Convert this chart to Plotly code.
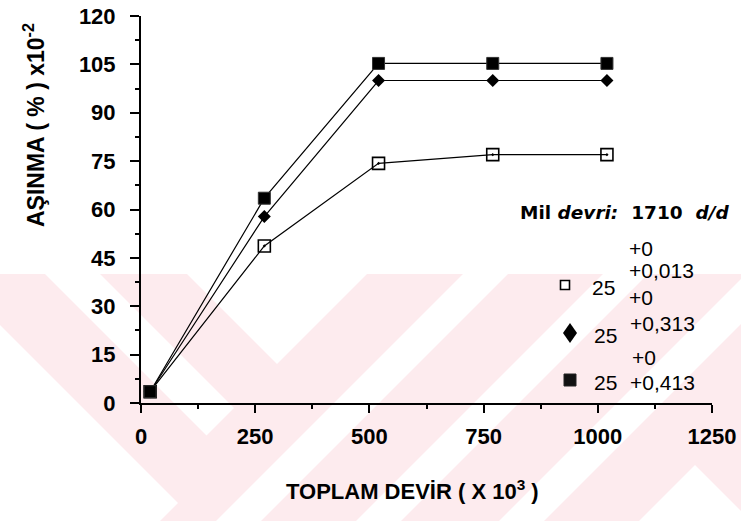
import plotly.graph_objects as go

# ---------------- data ----------------
toplam_devir = [20, 270, 520, 770, 1020]          # x (x10^3)
asinma_013 = [3.5, 48.7, 74.3, 77.0, 77.0]         # open square
asinma_313 = [3.5, 57.8, 100.0, 100.0, 100.0]      # diamond
asinma_413 = [3.5, 63.5, 105.3, 105.3, 105.3]      # filled square

x_ticks = [0, 250, 500, 750, 1000, 1250]
y_ticks = [0, 15, 30, 45, 60, 75, 90, 105, 120]

legend_title = "Mil <i>devri:</i>  1710  <i>d/d</i>"
legend_nominal = ["25", "25", "25"]
legend_tol = ["+0", "+0,013", "+0", "+0,313", "+0", "+0,413"]

# ---------------- layout geometry (pixels) ----------------
W, H = 741, 521
L, R, T, B = 141, 712, 16, 403


def PX(px):
    return (px - L) / (R - L)


def PY(py):
    return (B - py) / (B - T)


fig = go.Figure()

line_style = dict(color="black", width=1.2)
fig.add_trace(go.Scatter(x=toplam_devir, y=asinma_013, mode="lines+markers",
                         line=line_style,
                         marker=dict(symbol="square-open-dot", size=12, color="black",
                                     line=dict(color="black", width=1.6)),
                         cliponaxis=False, showlegend=False, hoverinfo="skip"))
fig.add_trace(go.Scatter(x=toplam_devir, y=asinma_313, mode="lines+markers",
                         line=line_style,
                         marker=dict(symbol="diamond", size=10, color="black"),
                         cliponaxis=False, showlegend=False, hoverinfo="skip"))
fig.add_trace(go.Scatter(x=toplam_devir, y=asinma_413, mode="lines+markers",
                         line=line_style,
                         marker=dict(symbol="square", size=12, color="black",
                                     line=dict(color="#333", width=1)),
                         cliponaxis=False, showlegend=False, hoverinfo="skip"))

# ---------------- watermark (decorative background) ----------------
PINK = "#fdebee"
shapes = []


def poly(pts, color):
    d = "M " + " L ".join(f"{PX(x):.5f},{PY(y):.5f}" for x, y in pts) + " Z"
    return dict(type="path", path=d, xref="paper", yref="paper",
                fillcolor=color, line=dict(width=0), layer="below")


shapes.append(poly([(0, 274), (W + 5, 274), (W + 5, H + 5), (0, H + 5)], PINK))
shapes.append(poly([(45, 274), (100, 274), (234, 408), (206.5, 435.5)], "white"))
shapes.append(poly([(187, 274), (367, 274), (277, 364)], "white"))
shapes.append(poly([(0, 325), (178, 503), (160, 521), (0, 521)], "white"))
for s1 in (737, 877, 1020):
    s2 = s1 + 45
    shapes.append(poly([(s1 - 274, 274), (s2 - 274, 274), (s2 - 530, 530), (s1 - 530, 530)], "white"))
shapes.append(poly([(695, 465), (630, 530), (760, 530)], "white"))

# legend symbols
shapes.append(dict(type="rect", xref="paper", yref="paper",
                   x0=PX(560.5), x1=PX(569.5), y0=PY(289.5), y1=PY(280.5),
                   line=dict(color="black", width=1.6), fillcolor="white"))
shapes.append(dict(type="path", xref="paper", yref="paper",
                   path=(f"M {PX(570):.5f},{PY(323):.5f} L {PX(577):.5f},{PY(333):.5f} "
                         f"L {PX(570):.5f},{PY(343):.5f} L {PX(563):.5f},{PY(333):.5f} Z"),
                   line=dict(width=0), fillcolor="black"))
shapes.append(dict(type="rect", xref="paper", yref="paper",
                   x0=PX(564), x1=PX(576), y0=PY(386), y1=PY(374),
                   line=dict(color="#222", width=1), fillcolor="#111"))

annotations = []
FONT_T = "Liberation Sans, Arial, sans-serif"
annotations.append(dict(text=legend_title, xref="paper", yref="paper",
                        x=PX(518), y=PY(213), xanchor="left", yanchor="middle",
                        showarrow=False,
                        font=dict(family="DejaVu Sans, sans-serif", size=18.5,
                                  color="black", weight="bold")))
nom_pos = [(590, 287), (592, 335), (592, 382)]
for txt, (x, y) in zip(legend_nominal, nom_pos):
    annotations.append(dict(text=txt, xref="paper", yref="paper", x=PX(x), y=PY(y),
                            xanchor="left", yanchor="middle", showarrow=False,
                            font=dict(family=FONT_T, size=21, color="black")))
tol_pos = [(627, 248), (627, 270), (627, 297), (628, 323), (630, 357), (628, 382)]
for txt, (x, y) in zip(legend_tol, tol_pos):
    annotations.append(dict(text=txt, xref="paper", yref="paper", x=PX(x), y=PY(y),
                            xanchor="left", yanchor="middle", showarrow=False,
                            font=dict(family=FONT_T, size=21, color="black")))

# axis titles
annotations.append(dict(text="AŞINMA ( % ) x10<sup>-2</sup>", xref="paper", yref="paper",
                        x=PX(34), y=PY(125), xanchor="center", yanchor="middle",
                        textangle=-90, showarrow=False,
                        font=dict(family=FONT_T, size=23, color="black", weight="bold")))
annotations.append(dict(text="TOPLAM DEVİR ( X 10<sup>3</sup> )", xref="paper", yref="paper",
                        x=PX(412), y=PY(490), xanchor="center", yanchor="middle",
                        showarrow=False,
                        font=dict(family=FONT_T, size=22, color="black", weight="bold")))

tickfont = dict(family=FONT_T, size=22, color="black", weight="bold")

fig.update_layout(
    width=W, height=H,
    margin=dict(l=L, r=W - R, t=T, b=H - B, pad=0, autoexpand=False),
    paper_bgcolor="white", plot_bgcolor="rgba(0,0,0,0)",
    shapes=shapes, annotations=annotations,
    showlegend=False, hovermode=False,
    xaxis=dict(range=[0, 1250], tickvals=x_ticks, ticktext=[str(v) for v in x_ticks],
               automargin=False, fixedrange=True,
               showgrid=False, zeroline=False, showline=True, linecolor="black",
               linewidth=2, ticks="outside", ticklen=8, tickwidth=2, tickcolor="black",
               tickfont=tickfont, ticklabelstandoff=5,
               minor=dict(dtick=125, tick0=0, ticks="outside", ticklen=4,
                          tickwidth=1.5, tickcolor="black", showgrid=False)),
    yaxis=dict(range=[0, 120], tickvals=y_ticks, ticktext=[str(v) for v in y_ticks],
               automargin=False, fixedrange=True,
               showgrid=False, zeroline=False, showline=True, linecolor="black",
               linewidth=2, ticks="outside", ticklen=9, tickwidth=2, tickcolor="black",
               tickfont=tickfont, ticklabelstandoff=10,
               minor=dict(dtick=7.5, tick0=0, ticks="outside", ticklen=4,
                          tickwidth=1.5, tickcolor="black", showgrid=False)),
)

fig.write_html("out.html", config={"displayModeBar": False},
               post_script="document.body.style.margin='0';document.body.style.overflow='hidden';")
